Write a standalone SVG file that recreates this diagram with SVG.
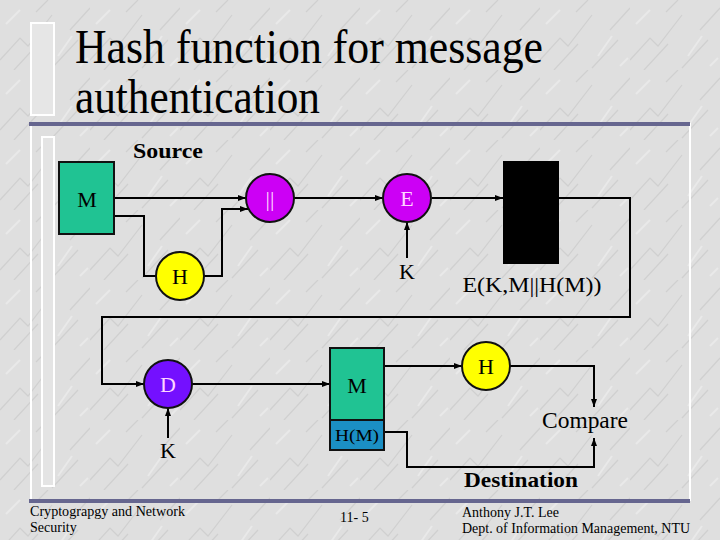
<svg xmlns="http://www.w3.org/2000/svg" width="720" height="540" viewBox="0 0 720 540" font-family="'Liberation Serif','Times New Roman',serif">
<defs>
<style>
.t{font-family:"Liberation Serif","Times New Roman",serif;fill:#000}
.c{text-anchor:middle}
.b{font-weight:bold}
.conn path{fill:none;stroke:#000;stroke-width:2}
.node{stroke:#111;stroke-width:2}
.pk{fill:#ffd6ff}
</style>
<marker id="ar" markerWidth="8" markerHeight="8" refX="8" refY="4" orient="auto" markerUnits="userSpaceOnUse">
<path d="M0,1 L8,4 L0,7 Z" fill="#000"/>
</marker>
<pattern id="marble" width="90" height="70" patternUnits="userSpaceOnUse">
<rect width="90" height="70" fill="#dfdfdf"/>
<path d="M0,60 L20,38 L28,46 L52,15 M14,70 L38,44 M52,68 L78,40 M36,12 L48,0 M70,30 L90,8" stroke="#d0d0d0" stroke-width="1.2" fill="none"/>
<path d="M6,24 L20,10 M58,56 L72,36 M80,66 L88,58" stroke="#e9e9e9" stroke-width="2" fill="none"/>
</pattern>
</defs>
<rect x="0" y="0" width="720" height="540" fill="url(#marble)"/>
<!-- title bar -->
<rect x="31" y="23" width="23" height="92" fill="#e6e6e6" stroke="#ffffff" stroke-width="2"/>
<text class="t" x="75" y="63" font-size="48" textLength="468" lengthAdjust="spacingAndGlyphs">Hash function for message</text>
<text class="t" x="75" y="113" font-size="48" textLength="245" lengthAdjust="spacingAndGlyphs">authentication</text>
<!-- panel -->
<rect x="31" y="124" width="659" height="376" fill="none" stroke="#ffffff" stroke-width="2"/>
<rect x="29" y="122" width="661" height="4" fill="#66668f"/>
<rect x="29" y="499" width="661" height="4" fill="#66668f"/>
<rect x="42" y="137" width="12" height="349" fill="#e4e4e4" stroke="#ffffff" stroke-width="2"/>
<text class="t c b" x="168" y="158" font-size="21" textLength="70" lengthAdjust="spacingAndGlyphs">Source</text>
<text class="t c b" x="521" y="487" font-size="21" textLength="114" lengthAdjust="spacingAndGlyphs">Destination</text>
<g class="conn">
<path d="M114,198 H246" marker-end="url(#ar)"/>
<path d="M114,216 H144 V276 H156"/>
<path d="M204,276 H222 V209 H248" marker-end="url(#ar)"/>
<path d="M294,198 H383" marker-end="url(#ar)"/>
<path d="M407,258 V222" marker-end="url(#ar)"/>
<path d="M432,198 H503" marker-end="url(#ar)"/>
<path d="M559,198 H630 V317 H102 V384 H144" marker-end="url(#ar)"/>
<path d="M168,438 V408" marker-end="url(#ar)"/>
<path d="M192,384 H330" marker-end="url(#ar)"/>
<path d="M384,366 H462" marker-end="url(#ar)"/>
<path d="M510,366 H594 V407" marker-end="url(#ar)"/>
<path d="M384,432 H407 V467 H594 V438" marker-end="url(#ar)"/>
</g>
<g id="M-src"><rect class="node" x="59" y="162" width="55" height="72" fill="#20c393"/><text class="t c" x="87" y="207" font-size="22">M</text></g>
<g id="concat"><circle class="node" cx="270" cy="198" r="24" fill="#cc00f5"/><text class="t c pk" x="270" y="206" font-size="22">||</text></g>
<g id="H-src"><circle class="node" cx="180" cy="276" r="24" fill="#ffff00"/><text class="t c" x="180" y="284" font-size="22">H</text></g>
<g id="E"><circle class="node" cx="407" cy="198" r="24" fill="#cc00f5"/><text class="t c pk" x="407" y="206" font-size="22">E</text></g>
<g id="K-src"><text class="t c" x="407" y="279" font-size="22">K</text></g>
<g id="cipher"><rect x="503" y="161" width="56" height="103" fill="#000"/><text class="t c" x="532" y="292" font-size="22" textLength="139" lengthAdjust="spacingAndGlyphs">E(K,M||H(M))</text></g>
<g id="D"><circle class="node" cx="168" cy="384" r="24" fill="#7410ff"/><text class="t c pk" x="168" y="392" font-size="22">D</text></g>
<g id="K-dst"><text class="t c" x="168" y="458" font-size="22">K</text></g>
<g id="M-dst"><rect class="node" x="330" y="348" width="54" height="72" fill="#20c393"/><rect class="node" x="330" y="420" width="54" height="30" fill="#1b8fc4"/><text class="t c" x="357" y="393" font-size="22">M</text><text class="t c" x="357" y="441" font-size="16" textLength="44" lengthAdjust="spacingAndGlyphs">H(M)</text></g>
<g id="H-dst"><circle class="node" cx="486" cy="366" r="24" fill="#ffff00"/><text class="t c" x="486" y="374" font-size="22">H</text></g>
<g id="compare"><text class="t c" x="585" y="428" font-size="23" textLength="86" lengthAdjust="spacingAndGlyphs">Compare</text></g>
<!-- footer -->
<text class="t" x="30" y="516" font-size="14" textLength="155" lengthAdjust="spacingAndGlyphs">Cryptograpgy and Network</text>
<text class="t" x="30" y="532" font-size="14">Security</text>
<text class="t" x="340" y="522" font-size="14">11- 5</text>
<text class="t" x="462" y="517" font-size="14">Anthony J.T. Lee</text>
<text class="t" x="462" y="533" font-size="14" textLength="228" lengthAdjust="spacingAndGlyphs">Dept. of Information Management, NTU</text>
</svg>
